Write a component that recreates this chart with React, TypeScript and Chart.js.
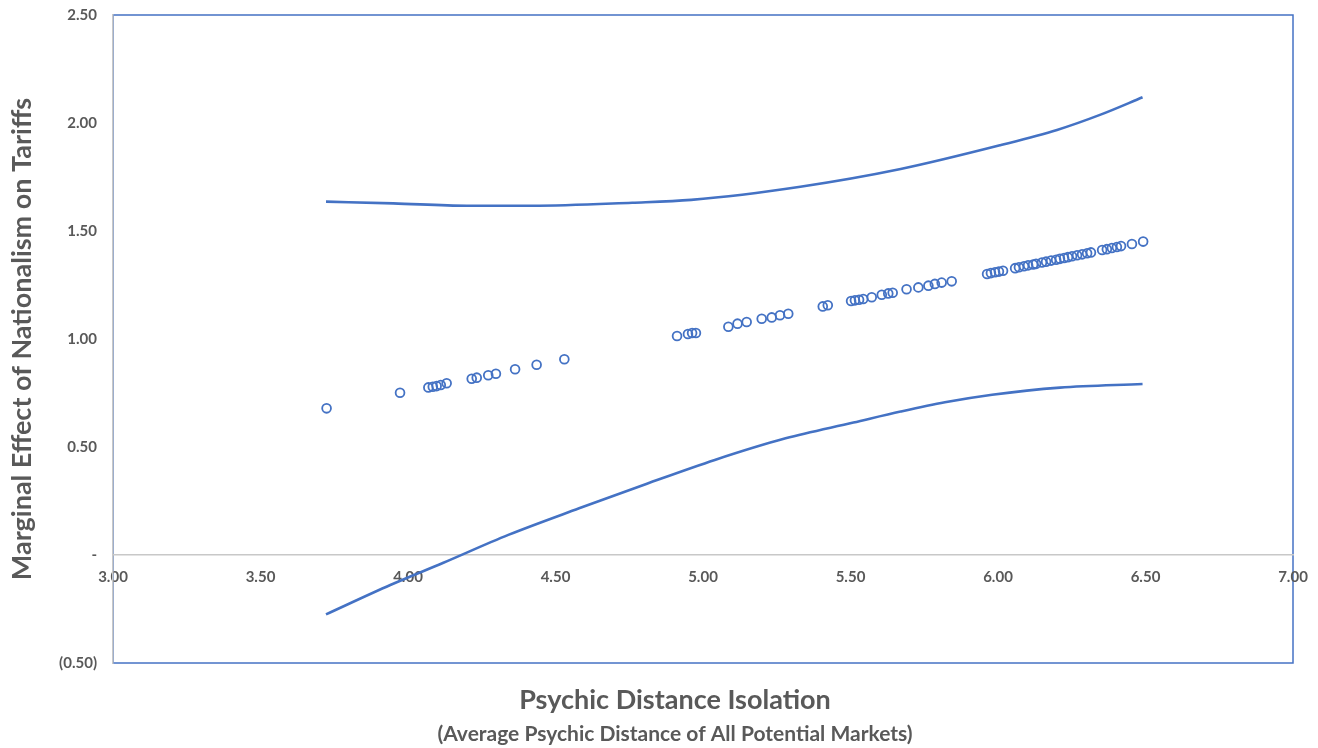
import React, { useEffect, useRef } from 'react';
import { Chart, registerables } from 'chart.js';

Chart.register(...registerables);

// ---- data ----
const pointX = [
  3.724, 3.973, 4.069, 4.084, 4.097, 4.111, 4.131, 4.216, 4.233, 4.272, 4.298, 4.363, 4.436, 4.53,
  4.912, 4.949, 4.963, 4.976, 5.086, 5.117, 5.148, 5.199, 5.233, 5.261, 5.289, 5.406, 5.423,
  5.502, 5.515, 5.529, 5.543, 5.572, 5.606, 5.628, 5.643, 5.69, 5.73, 5.764, 5.786, 5.809, 5.843,
  5.963, 5.976, 5.99, 6.003, 6.017, 6.058, 6.071, 6.088, 6.102, 6.119, 6.129, 6.149, 6.163, 6.18,
  6.197, 6.21, 6.224, 6.237, 6.251, 6.268, 6.285, 6.302, 6.315, 6.353, 6.369, 6.386, 6.403, 6.417,
  6.454, 6.492,
];
const pointY = [
  0.679, 0.751, 0.776, 0.779, 0.782, 0.787, 0.795, 0.816, 0.821, 0.832, 0.839, 0.86, 0.881, 0.906,
  1.014, 1.023, 1.028, 1.028, 1.057, 1.071, 1.079, 1.094, 1.1, 1.11, 1.117, 1.151, 1.156,
  1.176, 1.179, 1.182, 1.185, 1.193, 1.205, 1.211, 1.214, 1.23, 1.239, 1.247, 1.255, 1.261, 1.267,
  1.301, 1.305, 1.309, 1.312, 1.316, 1.328, 1.332, 1.337, 1.341, 1.345, 1.348, 1.354, 1.358, 1.363,
  1.367, 1.371, 1.375, 1.379, 1.383, 1.388, 1.392, 1.397, 1.401, 1.412, 1.416, 1.421, 1.426, 1.43,
  1.44, 1.451,
];
const upperX = [3.722, 3.95, 4.2, 4.42, 4.76, 4.96, 5.33, 5.67, 6.01, 6.2, 6.35, 6.49];
const upperY = [1.636, 1.628, 1.617, 1.617, 1.631, 1.644, 1.705, 1.787, 1.898, 1.968, 2.04, 2.119];
const lowerX = [3.722, 3.94, 4.12, 4.34, 4.58, 4.81, 5.04, 5.28, 5.51, 5.67, 5.82, 5.98, 6.21, 6.49];
const lowerY = [-0.275, -0.139, -0.036, 0.093, 0.216, 0.33, 0.44, 0.54, 0.613, 0.664, 0.707, 0.742, 0.775, 0.792];

const xTickValues = [3, 3.5, 4, 4.5, 5, 5.5, 6, 6.5, 7];
const yTickValues = [-0.5, 0, 0.5, 1, 1.5, 2, 2.5];

const xTitle = 'Psychic Distance Isolation';
const xSubtitle = '(Average Psychic Distance of All Potential Markets)';
const yTitle = 'Marginal Effect of Nationalism on Tariffs';

const BLUE = '#4472C4';
const GREY_TEXT = '#595959';
const AXIS_GREY = '#C8C8C8';
const FONT = 'Lato, "Open Sans", sans-serif';

const formatY = (v: number) => {
  if (Math.abs(v) < 1e-9) return '-';
  if (v < 0) return '(' + Math.abs(v).toFixed(2) + ')';
  return v.toFixed(2);
};

const framePlugin = {
  id: 'plotFrame',
  beforeDraw(chart: any) {
    const { ctx, chartArea: a } = chart;
    ctx.save();
    ctx.strokeStyle = BLUE;
    ctx.lineWidth = 1.5;
    ctx.strokeRect(a.left, a.top, a.right - a.left, a.bottom - a.top);
    ctx.restore();
  },
};

export default function App() {
  const ref = useRef<HTMLCanvasElement | null>(null);

  useEffect(() => {
    document.body.style.margin = '0';
    if (!ref.current) return;
    const chart = new Chart(ref.current, {
      type: 'scatter',
      data: {
        datasets: [
          {
            label: 'points',
            data: pointX.map((x, i) => ({ x, y: pointY[i] })),
            showLine: false,
            pointStyle: 'circle',
            pointRadius: 4.4,
            pointBorderWidth: 1.8,
            borderColor: BLUE,
            backgroundColor: 'rgba(255,255,255,0)',
          },
          {
            label: 'upper',
            data: upperX.map((x, i) => ({ x, y: upperY[i] })),
            showLine: true,
            pointRadius: 0,
            borderWidth: 2.6,
            borderColor: BLUE,
            backgroundColor: BLUE,
            cubicInterpolationMode: 'monotone',
            fill: false,
          },
          {
            label: 'lower',
            data: lowerX.map((x, i) => ({ x, y: lowerY[i] })),
            showLine: true,
            pointRadius: 0,
            borderWidth: 2.6,
            borderColor: BLUE,
            backgroundColor: BLUE,
            cubicInterpolationMode: 'monotone',
            fill: false,
          },
        ],
      },
      options: {
        animation: false,
        responsive: false,
        devicePixelRatio: 1,
        layout: { padding: { left: 32, right: 0, top: 15, bottom: 1.4 } },
        plugins: {
          legend: { display: false },
          tooltip: { enabled: false },
          title: {
            display: true,
            text: xTitle,
            position: 'bottom',
            weight: 1000,
            color: GREY_TEXT,
            font: { family: FONT, size: 27, weight: 'bold', lineHeight: 1.2 },
            padding: { top: 20.8, bottom: 2 },
          },
          subtitle: {
            display: true,
            text: xSubtitle,
            position: 'bottom',
            color: GREY_TEXT,
            font: { family: FONT, size: 21, weight: 'bold', lineHeight: 1.2 },
            padding: { top: 3.2, bottom: 0 },
          },
        },
        scales: {
          x: {
            type: 'linear',
            position: { y: 0 },
            min: 3,
            max: 7,
            afterBuildTicks: (scale: any) => {
              scale.ticks = xTickValues.map((v) => ({ value: v }));
            },
            afterFit: (scale: any) => {
              scale.height = 0;
              scale.paddingTop = 0;
              scale.paddingBottom = 0;
              scale.paddingLeft = 0;
              scale.paddingRight = 0;
            },
            grid: { display: false, drawTicks: false },
            border: { display: true, color: AXIS_GREY, width: 1.5 },
            ticks: {
              autoSkip: false,
              maxRotation: 0,
              padding: 13,
              color: GREY_TEXT,
              font: { family: FONT, size: 15, weight: 'bold' },
              callback: (v: any) => Number(v).toFixed(2),
            },
          },
          y: {
            type: 'linear',
            position: 'left',
            min: -0.5,
            max: 2.5,
            afterBuildTicks: (scale: any) => {
              scale.ticks = yTickValues.map((v) => ({ value: v }));
            },
            afterFit: (scale: any) => {
              scale.width = 81;
              scale.paddingTop = 0;
              scale.paddingBottom = 0;
            },
            grid: { display: false, drawTicks: false },
            border: { display: true, color: AXIS_GREY, width: 1.5 },
            ticks: {
              padding: 16,
              color: GREY_TEXT,
              font: { family: FONT, size: 15, weight: 'bold' },
              callback: (v: any) => formatY(Number(v)),
            },
            title: {
              display: true,
              text: yTitle,
              color: GREY_TEXT,
              font: { family: FONT, size: 27, weight: 'bold', lineHeight: 1.2 },
              padding: { top: -26.2, bottom: 0 },
            },
          },
          yRightSpacer: {
            type: 'linear',
            position: 'right',
            min: -0.5,
            max: 2.5,
            afterFit: (scale: any) => {
              scale.width = 25;
              scale.paddingTop = 0;
              scale.paddingBottom = 0;
            },
            grid: { display: false, drawTicks: false },
            border: { display: false },
            ticks: { display: false },
          },
        },
      } as any,
      plugins: [framePlugin],
    });
    return () => chart.destroy();
  }, []);

  return (
    <div style={{ width: 1318, height: 748 }}>
      <canvas ref={ref} width={1318} height={748} style={{ display: 'block' }} />
    </div>
  );
}
